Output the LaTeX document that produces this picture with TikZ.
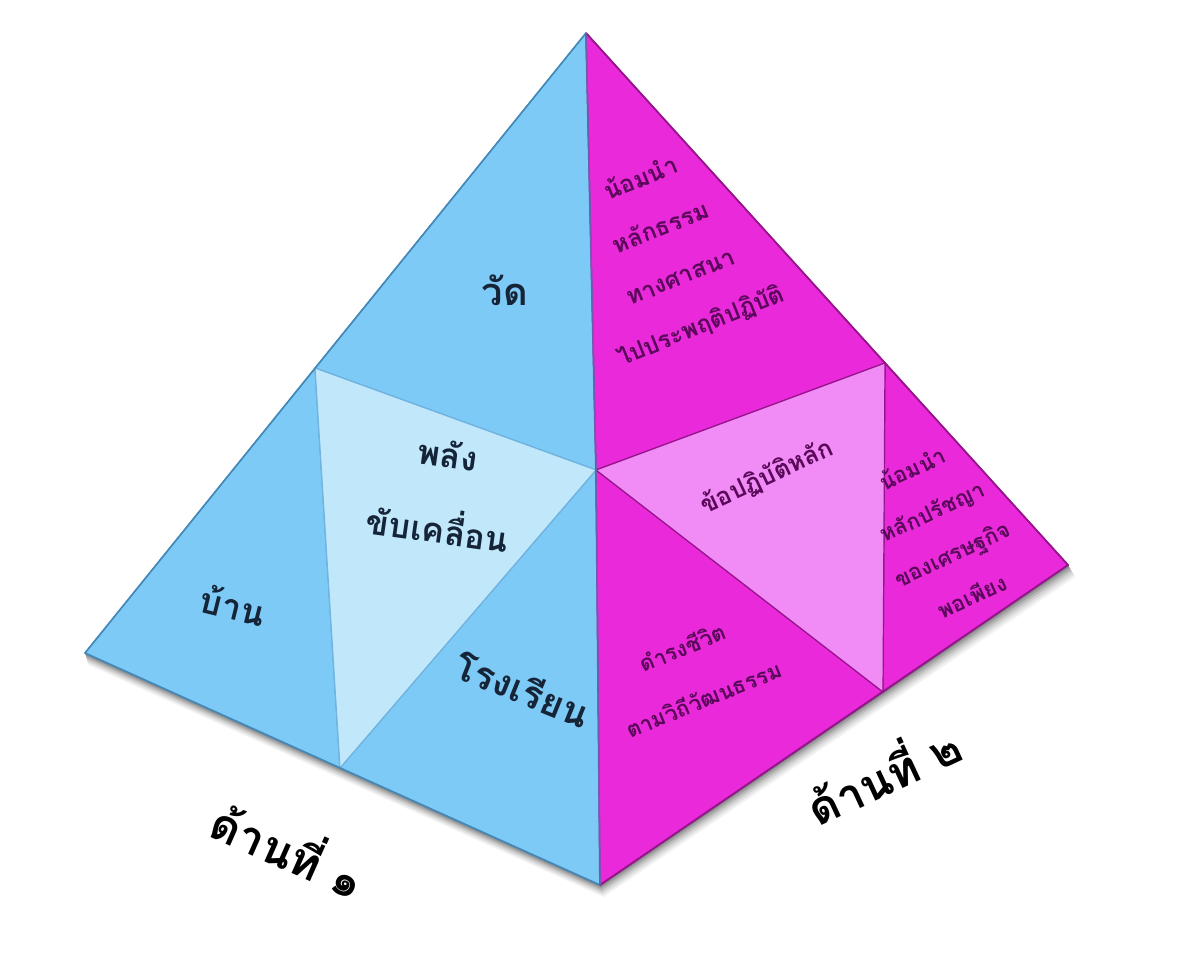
\documentclass[tikz,border=0pt]{standalone}
\usepackage{fontspec}
\newfontfamily\thai[Script=Thai]{Loma}
\definecolor{bluef}{RGB}{126,202,246}
\definecolor{bluel}{RGB}{192,232,250}
\definecolor{blueedge}{RGB}{80,160,215}
\definecolor{magf}{RGB}{234,42,218}
\definecolor{magl}{RGB}{241,140,246}
\definecolor{magedge}{RGB}{150,20,140}
\definecolor{bluetext}{RGB}{22,36,56}
\definecolor{magtext}{RGB}{90,8,90}
\tikzset{
  bface/.style={fill=bluef,draw=blueedge,line width=1.2pt,line join=round},
  bmid/.style={fill=bluel,draw=blueedge!80!white,line width=1.2pt,line join=round},
  mface/.style={fill=magf,draw=magedge,line width=1.2pt,line join=round},
  mmid/.style={fill=magl,draw=magedge,line width=1.2pt,line join=round},
  btxt/.style={font=\thai\bfseries\fontsize{38}{46}\selectfont,text=bluetext,align=center,inner sep=0pt},
  mtxt/.style={font=\thai\bfseries\fontsize{24}{53}\selectfont,text=magtext,align=center,inner sep=0pt},
  sidetxt/.style={font=\thai\bfseries\fontsize{46}{50}\selectfont,text=black,inner sep=0pt}
}
\begin{document}
\begin{tikzpicture}[x=1pt,y=1pt]
\useasboundingbox (0,0) rectangle (1187,-953);
\fill[white] (0,0) rectangle (1187,-953);
% vertices
\coordinate (A) at (586,-33);
\coordinate (Lc) at (85,-653);
\coordinate (B) at (600,-885);
\coordinate (Rc) at (1068,-565);
\coordinate (C) at (596,-470);
\coordinate (L1) at (315,-368);
\coordinate (L2) at (340,-768);
\coordinate (R1) at (885,-363);
\coordinate (R2) at (883,-692);
% shadow
\foreach \o/\op in {12/0.05,10/0.06,8/0.08,6/0.10,4/0.13,2/0.17}{
  \fill[black,opacity=\op] ([shift={(\o*0.3,-\o)}]Lc) -- ([shift={(\o*0.3,-\o)}]B) -- ([shift={(\o*0.6,-\o)}]Rc) -- (Rc) -- (B) -- (Lc) -- cycle;
}
% left face
\draw[bface] (A) -- (L1) -- (C) -- cycle;
\draw[bface] (L1) -- (Lc) -- (L2) -- cycle;
\draw[bface] (C) -- (L2) -- (B) -- cycle;
\draw[bmid] (L1) -- (C) -- (L2) -- cycle;
% right face
\draw[mface] (A) -- (C) -- (R1) -- cycle;
\draw[mface] (R1) -- (R2) -- (Rc) -- cycle;
\draw[mface] (C) -- (B) -- (R2) -- cycle;
\draw[mmid] (C) -- (R1) -- (R2) -- cycle;
% outer edges
\draw[line width=1.8pt,draw=magedge,line join=round] (A) -- (Rc) -- (B);
\draw[line width=1.6pt,draw=blueedge!85!black,line join=round] (A) -- (Lc) -- (B);
% ridge
\draw[line width=1.8pt,draw=blueedge!50!magedge] (A) -- (C) -- (B);
% texts left
\node[btxt] (wat) at (505,-290) {วัด};
\node[btxt,rotate=-8,font=\thai\bfseries\fontsize{34}{76}\selectfont] (phalang) at (443,-492) {พลัง\\ขับเคลื่อน};
\node[btxt,rotate=-14,font=\thai\bfseries\fontsize{35}{40}\selectfont] (ban) at (233,-605) {บ้าน};
\node[btxt,rotate=-22] (rongrian) at (523,-688) {โรงเรียน};
% texts right
\node[mtxt,rotate=22] (t1) at (671,-253) {น้อมนำ\\หลักธรรม\\ทางศาสนา\\ไปประพฤติปฏิบัติ};
\node[mtxt,rotate=25,font=\thai\bfseries\fontsize{25}{30}\selectfont] (t2) at (767,-477) {ข้อปฏิบัติหลัก};
\node[mtxt,rotate=25,font=\thai\bfseries\fontsize{22}{47}\selectfont] (t3) at (942,-532) {น้อมนำ\\หลักปรัชญา\\ของเศรษฐกิจ\\พอเพียง};
\node[mtxt,rotate=22,font=\thai\bfseries\fontsize{22}{56}\selectfont] (t4) at (693,-673) {ดำรงชีวิต\\ตามวิถีวัฒนธรรม};
% side labels
\node[sidetxt,rotate=-24] (side1) at (290,-847) {ด้านที่ ๑};
\node[sidetxt,rotate=25] (side2) at (882,-772) {ด้านที่ ๒};
\end{tikzpicture}
\end{document}
